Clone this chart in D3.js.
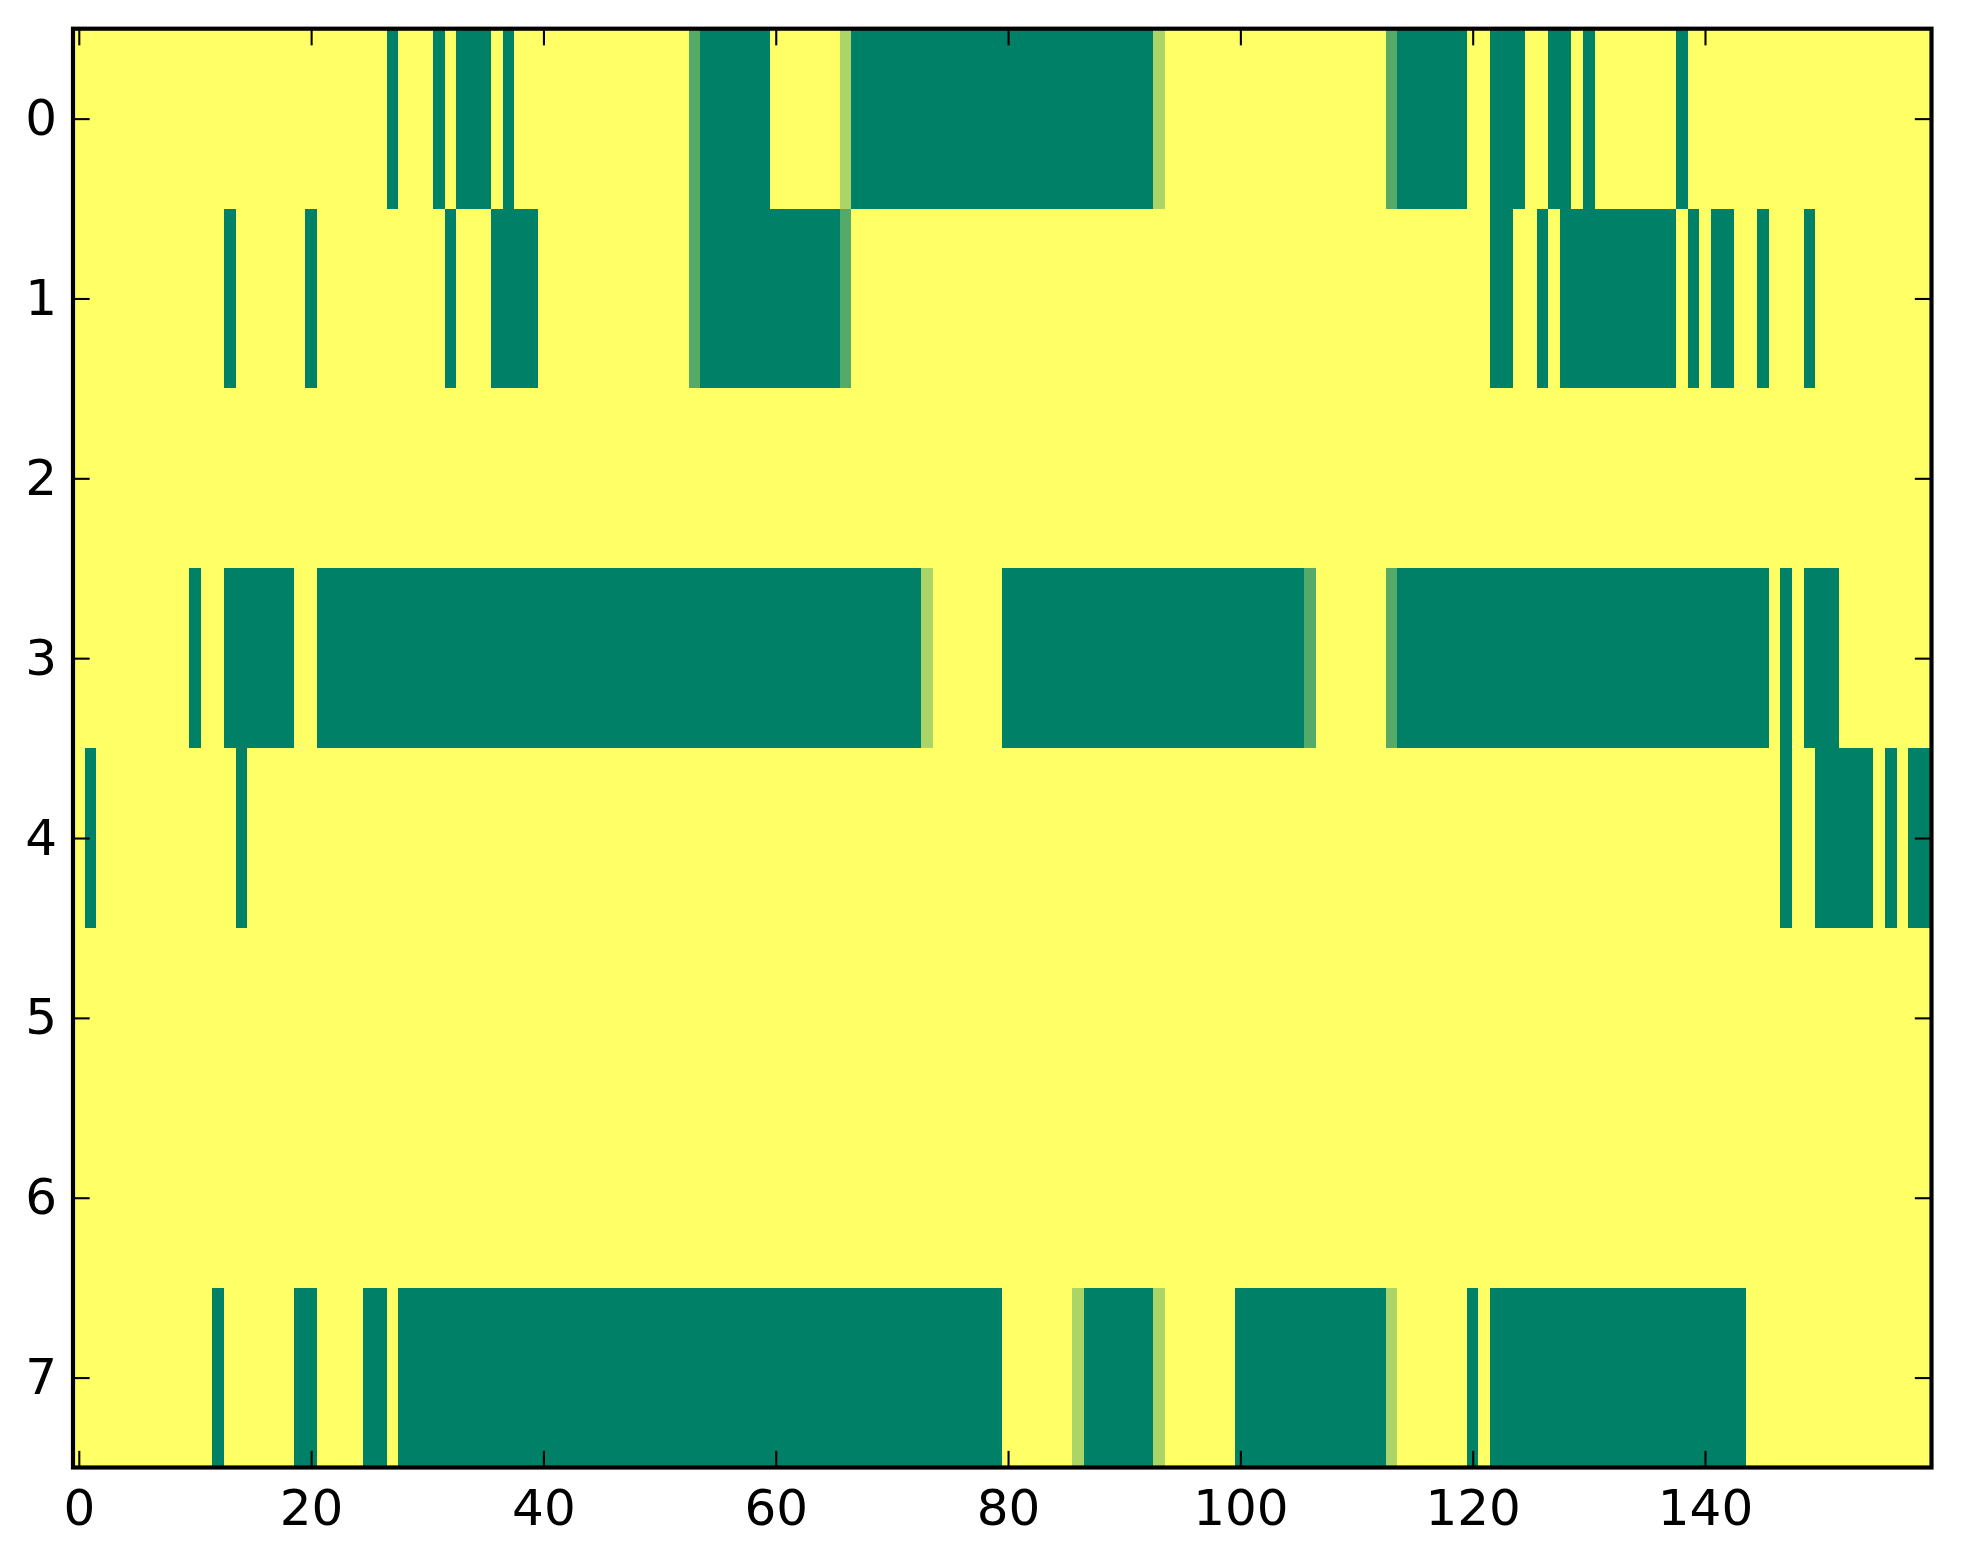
<!DOCTYPE html>
<html>
<head>
<meta charset="utf-8">
<script src="https://cdn.jsdelivr.net/npm/d3@7"></script>
<style>
  html, body { margin: 0; padding: 0; background: #ffffff; }
  svg { display: block; }
  text { font-family: "DejaVu Sans", sans-serif; }
</style>
</head>
<body>
<svg id="chart" width="1963" height="1564"></svg>
<script>
// ---- data (0 = yellow, 1 = dark green) ----
const rowLabels = [0, 1, 2, 3, 4, 5, 6, 7];
const xTickValues = [0, 20, 40, 60, 80, 100, 120, 140];
const nCols = 160;

const row0 = [
  0,0,0,0,0,0,0,0,0,0,  0,0,0,0,0,0,0,0,0,0,
  0,0,0,0,0,0,0,1,0,0,  0,1,0,1,1,1,0,1,0,0,
  0,0,0,0,0,0,0,0,0,0,  0,0,0,0.67,1,1,1,1,1,1,
  0,0,0,0,0,0,0.33,1,1,1,  1,1,1,1,1,1,1,1,1,1,
  1,1,1,1,1,1,1,1,1,1,  1,1,1,0.33,0,0,0,0,0,0,
  0,0,0,0,0,0,0,0,0,0,  0,0,0,0.67,1,1,1,1,1,1,
  0,0,1,1,1,0,0,1,1,0,  1,0,0,0,0,0,0,0,1,0,
  0,0,0,0,0,0,0,0,0,0,  0,0,0,0,0,0,0,0,0,0
];
const row1 = [
  0,0,0,0,0,0,0,0,0,0,  0,0,0,1,0,0,0,0,0,0,
  1,0,0,0,0,0,0,0,0,0,  0,0,1,0,0,0,1,1,1,1,
  0,0,0,0,0,0,0,0,0,0,  0,0,0,0.67,1,1,1,1,1,1,
  1,1,1,1,1,1,0.67,0,0,0,  0,0,0,0,0,0,0,0,0,0,
  0,0,0,0,0,0,0,0,0,0,  0,0,0,0,0,0,0,0,0,0,
  0,0,0,0,0,0,0,0,0,0,  0,0,0,0,0,0,0,0,0,0,
  0,0,1,1,0,0,1,0,1,1,  1,1,1,1,1,1,1,1,0,1,
  0,1,1,0,0,1,0,0,0,1,  0,0,0,0,0,0,0,0,0,0
];
const row2 = [
  0,0,0,0,0,0,0,0,0,0,  0,0,0,0,0,0,0,0,0,0,
  0,0,0,0,0,0,0,0,0,0,  0,0,0,0,0,0,0,0,0,0,
  0,0,0,0,0,0,0,0,0,0,  0,0,0,0,0,0,0,0,0,0,
  0,0,0,0,0,0,0,0,0,0,  0,0,0,0,0,0,0,0,0,0,
  0,0,0,0,0,0,0,0,0,0,  0,0,0,0,0,0,0,0,0,0,
  0,0,0,0,0,0,0,0,0,0,  0,0,0,0,0,0,0,0,0,0,
  0,0,0,0,0,0,0,0,0,0,  0,0,0,0,0,0,0,0,0,0,
  0,0,0,0,0,0,0,0,0,0,  0,0,0,0,0,0,0,0,0,0
];
const row3 = [
  0,0,0,0,0,0,0,0,0,0,  1,0,0,1,1,1,1,1,1,0,
  0,1,1,1,1,1,1,1,1,1,  1,1,1,1,1,1,1,1,1,1,
  1,1,1,1,1,1,1,1,1,1,  1,1,1,1,1,1,1,1,1,1,
  1,1,1,1,1,1,1,1,1,1,  1,1,1,0.33,0,0,0,0,0,0,
  1,1,1,1,1,1,1,1,1,1,  1,1,1,1,1,1,1,1,1,1,
  1,1,1,1,1,1,0.67,0,0,0,  0,0,0,0.67,1,1,1,1,1,1,
  1,1,1,1,1,1,1,1,1,1,  1,1,1,1,1,1,1,1,1,1,
  1,1,1,1,1,1,0,1,0,1,  1,1,0,0,0,0,0,0,0,0
];
const row4 = [
  0,1,0,0,0,0,0,0,0,0,  0,0,0,0,1,0,0,0,0,0,
  0,0,0,0,0,0,0,0,0,0,  0,0,0,0,0,0,0,0,0,0,
  0,0,0,0,0,0,0,0,0,0,  0,0,0,0,0,0,0,0,0,0,
  0,0,0,0,0,0,0,0,0,0,  0,0,0,0,0,0,0,0,0,0,
  0,0,0,0,0,0,0,0,0,0,  0,0,0,0,0,0,0,0,0,0,
  0,0,0,0,0,0,0,0,0,0,  0,0,0,0,0,0,0,0,0,0,
  0,0,0,0,0,0,0,0,0,0,  0,0,0,0,0,0,0,0,0,0,
  0,0,0,0,0,0,0,1,0,0,  1,1,1,1,1,0,1,0,1,1
];
const row5 = [
  0,0,0,0,0,0,0,0,0,0,  0,0,0,0,0,0,0,0,0,0,
  0,0,0,0,0,0,0,0,0,0,  0,0,0,0,0,0,0,0,0,0,
  0,0,0,0,0,0,0,0,0,0,  0,0,0,0,0,0,0,0,0,0,
  0,0,0,0,0,0,0,0,0,0,  0,0,0,0,0,0,0,0,0,0,
  0,0,0,0,0,0,0,0,0,0,  0,0,0,0,0,0,0,0,0,0,
  0,0,0,0,0,0,0,0,0,0,  0,0,0,0,0,0,0,0,0,0,
  0,0,0,0,0,0,0,0,0,0,  0,0,0,0,0,0,0,0,0,0,
  0,0,0,0,0,0,0,0,0,0,  0,0,0,0,0,0,0,0,0,0
];
const row6 = [
  0,0,0,0,0,0,0,0,0,0,  0,0,0,0,0,0,0,0,0,0,
  0,0,0,0,0,0,0,0,0,0,  0,0,0,0,0,0,0,0,0,0,
  0,0,0,0,0,0,0,0,0,0,  0,0,0,0,0,0,0,0,0,0,
  0,0,0,0,0,0,0,0,0,0,  0,0,0,0,0,0,0,0,0,0,
  0,0,0,0,0,0,0,0,0,0,  0,0,0,0,0,0,0,0,0,0,
  0,0,0,0,0,0,0,0,0,0,  0,0,0,0,0,0,0,0,0,0,
  0,0,0,0,0,0,0,0,0,0,  0,0,0,0,0,0,0,0,0,0,
  0,0,0,0,0,0,0,0,0,0,  0,0,0,0,0,0,0,0,0,0
];
const row7 = [
  0,0,0,0,0,0,0,0,0,0,  0,0,1,0,0,0,0,0,0,1,
  1,0,0,0,0,1,1,0,1,1,  1,1,1,1,1,1,1,1,1,1,
  1,1,1,1,1,1,1,1,1,1,  1,1,1,1,1,1,1,1,1,1,
  1,1,1,1,1,1,1,1,1,1,  1,1,1,1,1,1,1,1,1,1,
  0,0,0,0,0,0,0.33,1,1,1,  1,1,1,0.33,0,0,0,0,0,0,
  1,1,1,1,1,1,1,1,1,1,  1,1,1,0.33,0,0,0,0,0,0,
  1,0,1,1,1,1,1,1,1,1,  1,1,1,1,1,1,1,1,1,1,
  1,1,1,1,0,0,0,0,0,0,  0,0,0,0,0,0,0,0,0,0
];
const rows = [row0, row1, row2, row3, row4, row5, row6, row7];

// ---- layout ----
const plot = { left: 73, right: 1931.5, top: 28.7, bottom: 1467.5 };
const pxPerPt = 300 / 72;

const x = d3.scaleLinear().domain([-0.5, nCols - 0.5]).range([plot.left, plot.right]);
const y = d3.scaleLinear().domain([-0.5, rows.length - 0.5]).range([plot.top, plot.bottom]);
// summer_r colormap: 0 -> (1,1,0.4), 1 -> (0,0.5,0.4)
const color = d3.scaleLinear().domain([0, 1]).range(["#ffff66", "#008066"]).interpolate(d3.interpolateRgb);

const svg = d3.select("#chart");

// cells
const cells = [];
rows.forEach((r, ri) => r.forEach((v, ci) => cells.push({ r: ri, c: ci, v })));
svg.append("g")
  .attr("shape-rendering", "crispEdges")
  .selectAll("rect")
  .data(cells)
  .join("rect")
  .attr("x", d => x(d.c - 0.5))
  .attr("y", d => y(d.r - 0.5))
  .attr("width", d => x(d.c + 0.5) - x(d.c - 0.5) + 0.6)
  .attr("height", d => y(d.r + 0.5) - y(d.r - 0.5) + 0.6)
  .attr("fill", d => color(d.v));

// axes (matplotlib classic style: ticks inside on all four sides)
const tickLen = 4 * pxPerPt;
const tickWidth = 0.5 * pxPerPt * 1.0;
const fontSize = 12 * pxPerPt;

const axBottom = d3.axisBottom(x).tickValues(xTickValues).tickSizeInner(-tickLen).tickSizeOuter(0).tickPadding(0);
const axTop = d3.axisTop(x).tickValues(xTickValues).tickSizeInner(-tickLen).tickSizeOuter(0).tickFormat("");
const axLeft = d3.axisLeft(y).tickValues(rowLabels).tickSizeInner(-tickLen).tickSizeOuter(0).tickPadding(0);
const axRight = d3.axisRight(y).tickValues(rowLabels).tickSizeInner(-tickLen).tickSizeOuter(0).tickFormat("");

function styleAxis(g) {
  g.select(".domain").remove();
  g.selectAll(".tick line").attr("stroke", "#000").attr("stroke-width", tickWidth);
  g.selectAll(".tick text").attr("fill", "#000").attr("font-size", fontSize)
    .attr("font-family", "DejaVu Sans, sans-serif");
}

const gB = svg.append("g").attr("transform", `translate(0,${plot.bottom})`).call(axBottom).call(styleAxis);
gB.selectAll(".tick text").attr("dy", null).attr("y", 1525 - plot.bottom).attr("dominant-baseline", "alphabetic");

svg.append("g").attr("transform", `translate(0,${plot.top})`).call(axTop).call(styleAxis);

const gL = svg.append("g").attr("transform", `translate(${plot.left},0)`).call(axLeft).call(styleAxis);
gL.selectAll(".tick text").attr("dy", null).attr("x", 57 - plot.left).attr("y", 16)
  .attr("text-anchor", "end").attr("dominant-baseline", "alphabetic");

svg.append("g").attr("transform", `translate(${plot.right},0)`).call(axRight).call(styleAxis);

// frame
svg.append("rect")
  .attr("x", plot.left).attr("y", plot.top)
  .attr("width", plot.right - plot.left).attr("height", plot.bottom - plot.top)
  .attr("fill", "none").attr("stroke", "#000").attr("stroke-width", 1 * pxPerPt);
</script>
</body>
</html>
